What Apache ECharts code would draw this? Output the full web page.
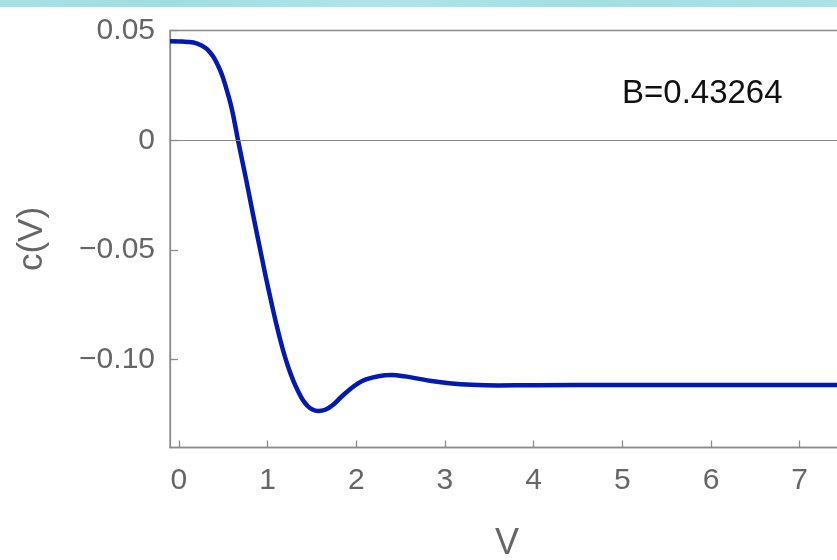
<!DOCTYPE html>
<html>
<head>
<meta charset="utf-8">
<script src="https://cdn.jsdelivr.net/npm/echarts@6/dist/echarts.min.js"></script>
<style>
html,body{margin:0;padding:0;background:#fff;}
#chart{width:837px;height:560px;}
</style>
</head>
<body>
<div id="chart"></div>
<script>
// Data
var vValues = [-0.1, 0, 0.1, 0.2, 0.3, 0.35, 0.4, 0.46, 0.5, 0.55, 0.6, 0.667, 0.761, 0.835, 0.948, 1.0, 1.1, 1.17, 1.23, 1.29, 1.35, 1.4, 1.45, 1.5, 1.57, 1.65, 1.74, 1.83, 1.93, 2.02, 2.11, 2.25, 2.4, 2.55, 2.68, 2.85, 3.05, 3.3, 3.6, 4.0, 5.0, 6.0, 7.0, 7.5];
var cValues = [0.0451, 0.0450, 0.0448, 0.0441, 0.0421, 0.0401, 0.0373, 0.0324, 0.0282, 0.0215, 0.0138, 0.0, -0.0184, -0.0336, -0.0560, -0.0660, -0.0840, -0.0950, -0.1030, -0.1095, -0.1148, -0.1185, -0.1210, -0.1226, -0.1234, -0.1228, -0.1205, -0.1170, -0.1135, -0.1108, -0.1090, -0.1075, -0.1070, -0.1076, -0.1085, -0.1097, -0.1107, -0.1114, -0.1117, -0.1116, -0.1115, -0.1115, -0.1115, -0.1115];
var xTickValues = [0, 1, 2, 3, 4, 5, 6, 7];
var xTickLabels = ['0', '1', '2', '3', '4', '5', '6', '7'];
var yTickValues = [-0.1, -0.05, 0, 0.05];
var yTickLabels = ['\u22120.10', '\u22120.05', '0', '0.05'];
var annotation = 'B=0.43264';
var xName = 'V';
var yName = 'c(V)';

var seriesData = vValues.map(function (v, i) { return [v, cValues[i]]; });
function labelFor(values, labels, val) {
  for (var i = 0; i < values.length; i++) {
    if (Math.abs(values[i] - val) < 1e-9) return labels[i];
  }
  return '';
}

var chart = echarts.init(document.getElementById('chart'), null, {renderer: 'canvas'});
var font = '"Liberation Sans", Arial, sans-serif';
var gray = '#666666';
var frame = '#8c8c8c';
chart.setOption({
  animation: false,
  backgroundColor: '#ffffff',
  grid: {
    left: 170, top: 30.5, width: 674, height: 417,
    outerBoundsMode: 'none', containLabel: false,
    show: true, borderColor: frame, borderWidth: 1.3, backgroundColor: 'transparent'
  },
  xAxis: {
    type: 'value', min: -0.1, max: 7.5,
    name: xName, nameLocation: 'middle', nameGap: 79,
    nameTextStyle: {fontFamily: font, fontSize: 36, color: gray},
    axisLine: {show: true, onZero: false, lineStyle: {color: frame, width: 1.3}},
    axisTick: {show: true, inside: true, length: 7, customValues: xTickValues, lineStyle: {color: frame, width: 1.3}},
    axisLabel: {show: true, margin: 18, fontFamily: font, fontSize: 30, color: gray,
      customValues: xTickValues,
      formatter: function (v) { return labelFor(xTickValues, xTickLabels, v); }},
    splitLine: {show: false}
  },
  yAxis: {
    type: 'value', min: -0.14, max: 0.05,
    name: yName, nameLocation: 'middle', nameGap: 120,
    nameTextStyle: {fontFamily: font, fontSize: 35, color: gray},
    axisLine: {show: true, onZero: false, lineStyle: {color: frame, width: 1.3}},
    axisTick: {show: true, inside: true, length: 8, customValues: yTickValues, lineStyle: {color: frame, width: 1.3}},
    axisLabel: {show: true, margin: 15, fontFamily: font, fontSize: 30, color: gray,
      padding: [9, 0, 0, 0],
      customValues: yTickValues,
      formatter: function (v) { return labelFor(yTickValues, yTickLabels, v); }},
    splitLine: {show: false}
  },
  graphic: [
    {
      type: 'rect', left: 0, top: 0, silent: true,
      shape: {x: 0, y: 0, width: 837, height: 7},
      style: {fill: new echarts.graphic.LinearGradient(0, 0, 1, 0, [
        {offset: 0, color: '#a9e0e6'}, {offset: 0.2, color: '#9fdde4'},
        {offset: 0.45, color: '#b0e4ea'}, {offset: 0.7, color: '#a2dee5'},
        {offset: 1, color: '#abe1e7'}])}
    },
    {
      type: 'text', left: 622, top: 77, silent: true,
      style: {text: annotation, fontFamily: font, fontSize: 33, fill: '#111111'}
    }
  ],
  series: [{
    type: 'line',
    data: seriesData,
    smooth: 0.4,
    showSymbol: false,
    symbol: 'none',
    clip: true,
    lineStyle: {color: '#0418b2', width: 4.5},
    z: 3,
    markLine: {
      silent: true, symbol: 'none', animation: false,
      label: {show: false},
      lineStyle: {color: '#888888', width: 1.2, type: 'solid'},
      data: [{yAxis: 0}]
    }
  }]
});
</script>
</body>
</html>
